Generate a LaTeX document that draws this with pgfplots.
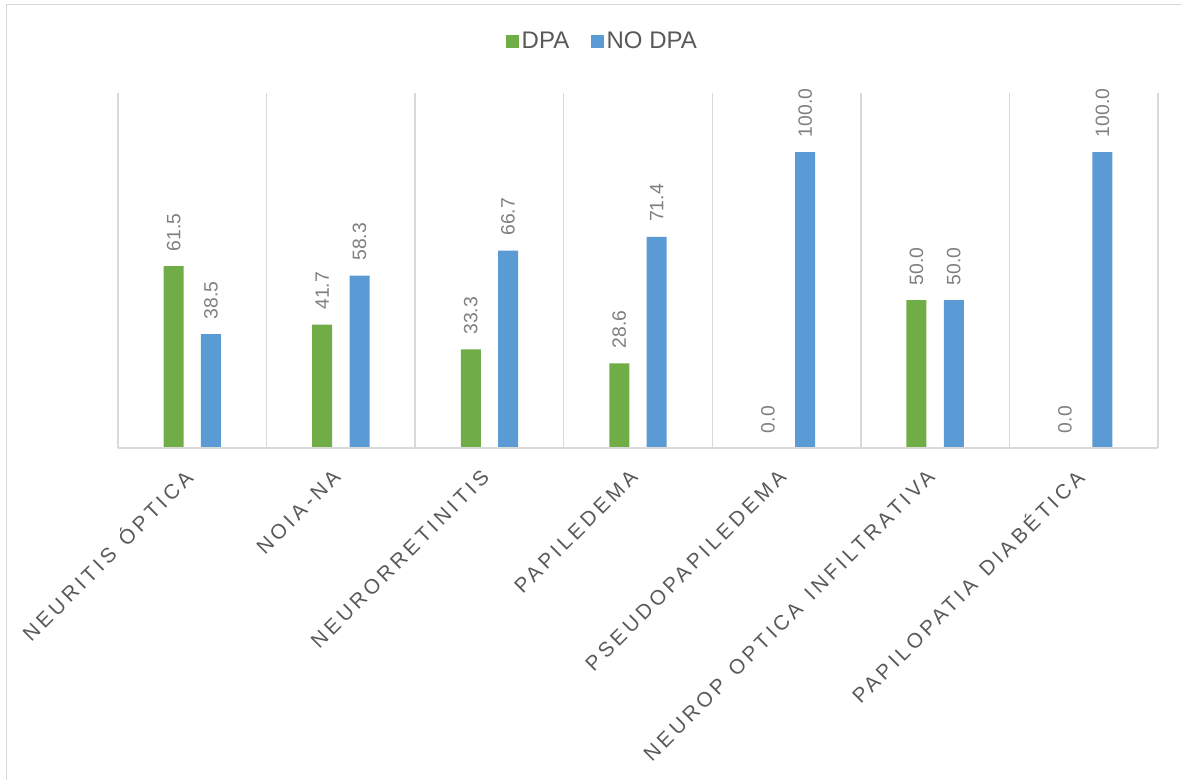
\documentclass[border=0pt]{standalone}
\usepackage{pgfplots}
\pgfplotsset{compat=1.18}
\usepackage{fontspec}
\setmainfont{Liberation Sans}
\newfontfamily\spacedfont[LetterSpace=18, WordSpace=1.3]{Liberation Sans}
\definecolor{dpagreen}{HTML}{70AD47}
\definecolor{nodpablue}{HTML}{5B9BD5}
\definecolor{gridgray}{HTML}{D9D9D9}
\definecolor{textgray}{HTML}{595959}
\definecolor{labelgray}{HTML}{7F7F7F}
\begin{document}
\begin{tikzpicture}
\useasboundingbox (0pt,0pt) rectangle (886.5pt,-585pt);
% outer frame (left and top edges)
\draw[gridgray, line width=1.2pt] (4.9pt,-585pt) -- (4.9pt,-3.4pt) -- (886.5pt,-3.4pt);
\begin{axis}[
  at={(88.5pt,-336pt)}, anchor=south west,
  scale only axis, width=780pt, height=266.25pt,
  xmin=-0.5, xmax=6.5, ymin=0, ymax=120,
  axis line style={draw=none},
  axis x line*=bottom,
  ytick=\empty,
  xtick={0,...,6},
  xticklabels={NEURITIS ÓPTICA, NOIA-NA, NEURORRETINITIS, PAPILEDEMA, PSEUDOPAPILEDEMA, NEUROP OPTICA INFILTRATIVA, PAPILOPATIA DIABÉTICA},
  major tick length=0pt,
  xticklabel style={font=\spacedfont\fontsize{15.5}{17}\selectfont, text=textgray,
    inner sep=0pt, xshift=-3pt, yshift=-19pt, rotate=45, anchor=east},
  minor xtick={-0.5,0.5,...,6.5},
  xminorgrids=true,
  minor grid style={gridgray, line width=1.1pt},
  minor tick length=0pt,
  ybar, bar width=15pt,
  nodes near coords,
  nodes near coords style={font=\fontsize{14.5}{16}\selectfont, text=labelgray,
    rotate=90, anchor=west, inner xsep=11pt, inner ysep=0pt,
    /pgf/number format/.cd, fixed, fixed zerofill, precision=1, assume math mode=true},
  legend columns=2,
  legend style={at={(0.466,1.146)}, anchor=center, draw=none,
    font=\fontsize{18}{20}\selectfont, text=textgray,
    /tikz/every even column/.append style={column sep=14pt}},
  legend image code/.code={\fill (0pt,-5pt) rectangle (10pt,5pt);},
]
\addplot[fill=dpagreen, draw=none, bar shift=-14pt] coordinates {
  (0,61.5) (1,41.7) (2,33.3) (3,28.6) (4,0.0) (5,50.0) (6,0.0)};
\addplot[fill=nodpablue, draw=none, bar shift=14pt] coordinates {
  (0,38.5) (1,58.3) (2,66.7) (3,71.4) (4,100.0) (5,50.0) (6,100.0)};
\legend{DPA, NO DPA}
\draw[gridgray, line width=1.1pt] (axis cs:-0.5,0) -- (axis cs:6.5,0);
\end{axis}
\end{tikzpicture}
\end{document}
